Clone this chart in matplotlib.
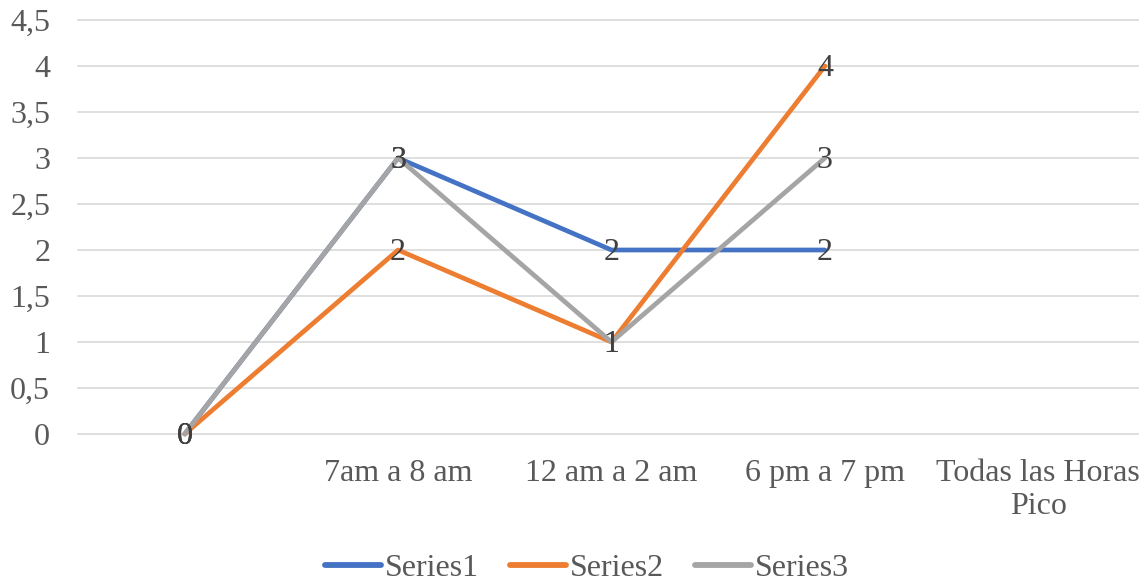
import matplotlib.pyplot as plt
import numpy as np

categories = ["", "7am a 8 am", "12 am a 2 am", "6 pm a 7 pm", "Todas las Horas\nPico"]
series1 = [0, 3, 2, 2]
series2 = [0, 2, 1, 4]
series3 = [0, 3, 1, 3]
series_names = ["Series1", "Series2", "Series3"]
colors = ["#4472C4", "#ED7D31", "#A5A5A5"]
y_ticks = [0, 0.5, 1, 1.5, 2, 2.5, 3, 3.5, 4, 4.5]

plt.rcParams["font.family"] = ["Liberation Serif", "DejaVu Serif"]

W, H = 1139, 582
fig = plt.figure(figsize=(W / 100, H / 100), dpi=100)
ax = fig.add_axes([78 / W, 1 - 434 / H, (1145 - 78) / W, (434 - 20) / H])

for name, vals, col in zip(series_names, [series1, series2, series3], colors):
    x = np.arange(len(vals))
    ax.plot(x, vals, color=col, lw=3.4, solid_capstyle="round", label=name, clip_on=False)
    for xi, v in zip(x, vals):
        ax.text(xi, v - 0.03, f"{v}", ha="center", va="center", fontsize=23, color="#404040")

ax.set_xlim(-0.5, len(categories) - 0.5)
ax.set_ylim(0, 4.5)
ax.set_yticks(y_ticks)
ax.set_yticklabels([f"{t:g}".replace(".", ",") for t in y_ticks])
ax.set_xticks(np.arange(len(categories)))
ax.set_xticklabels(categories, linespacing=1.2)
ax.tick_params(axis="both", length=0, labelsize=23, colors="#595959")
ax.tick_params(axis="y", pad=20)
ax.tick_params(axis="x", pad=18)
ax.grid(axis="y", color="#D9D9D9", lw=1.2)
for gl in ax.get_ygridlines():
    gl.set_clip_on(False)
ax.set_axisbelow(True)
for s in ax.spines.values():
    s.set_visible(False)

leg = fig.legend(loc="center", bbox_to_anchor=(587 / W, 1 - 568 / H), ncol=3, frameon=False,
                 fontsize=23, handlelength=1.75, handletextpad=0.1, columnspacing=1.0)
for t in leg.get_texts():
    t.set_color("#595959")
for ln in leg.get_lines():
    ln.set_linewidth(4.2)

fig.savefig("out.png", dpi=100)
